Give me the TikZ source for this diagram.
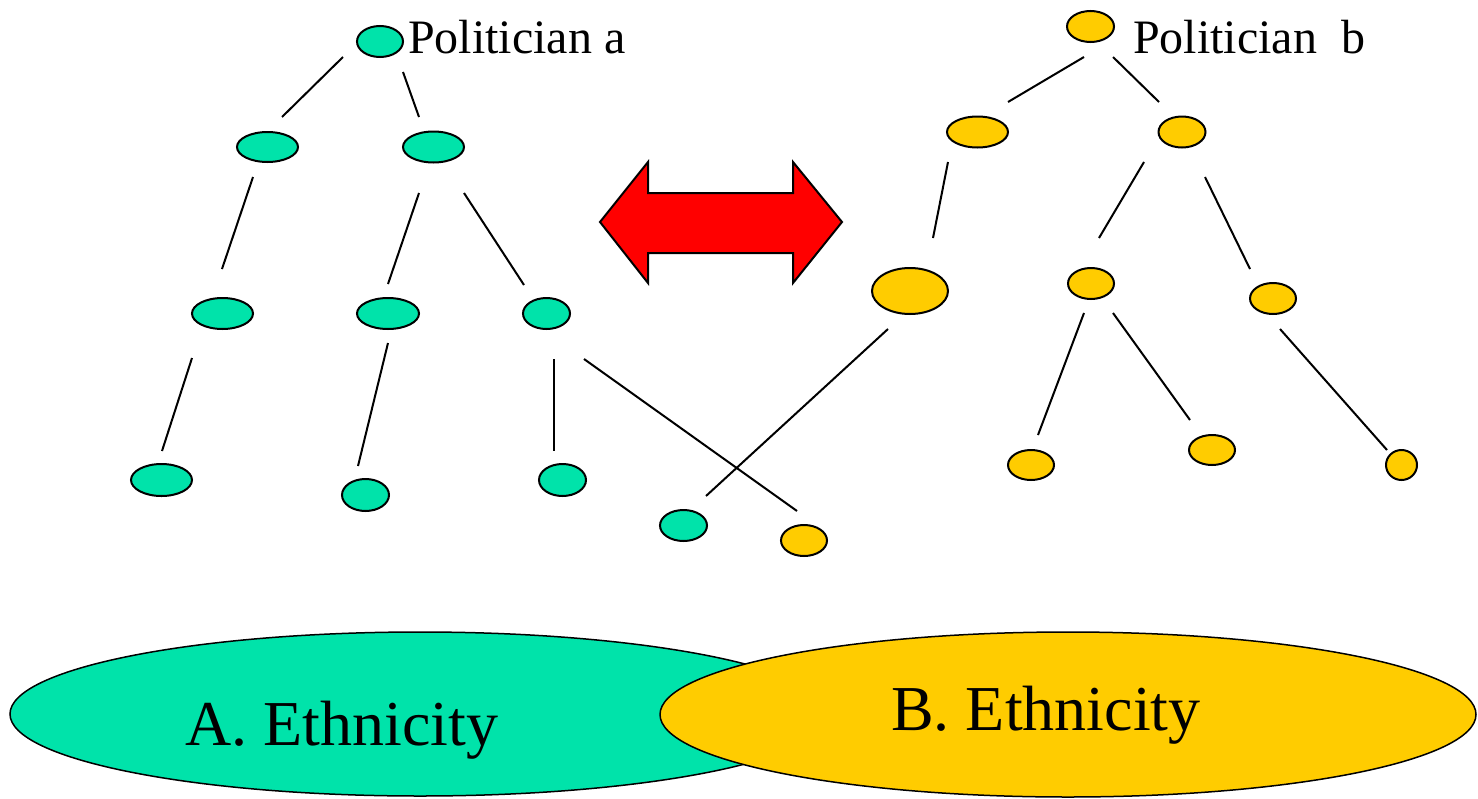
\documentclass[tikz,border=0pt]{standalone}
\usepackage{fontspec}
\setmainfont{Liberation Serif}
\usetikzlibrary{shapes.geometric}
\definecolor{tgreen}{RGB}{0,227,170}
\definecolor{tyellow}{RGB}{255,204,0}
\begin{document}
\begin{tikzpicture}[x=1pt,y=-1pt,
  gnode/.style={ellipse,draw=black,line width=2pt,fill=tgreen,inner sep=0pt},
  ynode/.style={ellipse,draw=black,line width=2pt,fill=tyellow,inner sep=0pt},
  sz/.style 2 args={minimum width=#1pt,minimum height=#2pt},
  link/.style={line width=2pt},
  bigell/.style={ellipse,draw=black,line width=1.5pt,inner sep=0pt},
  lbl/.style={anchor=base west,inner sep=0pt,font=\fontsize{48}{58}\selectfont},
  biglbl/.style={anchor=base west,inner sep=0pt,font=\fontsize{64}{76}\selectfont}]
\useasboundingbox (0,0) rectangle (1478,798);

% ---- Politician a tree (green)
\node[gnode,sz={46}{31}] (ga) at (380,41.5) {};
\node[gnode,sz={61}{30}] (g1l) at (267.5,147) {};
\node[gnode,sz={61}{31}] (g1r) at (433.5,147) {};
\node[gnode,sz={61}{31}] (g2l) at (222.5,313.5) {};
\node[gnode,sz={62}{31}] (g2m) at (388,313.5) {};
\node[gnode,sz={47}{31}] (g2r) at (546.5,313.5) {};
\node[gnode,sz={61}{32}] (g3a) at (161.5,480) {};
\node[gnode,sz={47}{32}] (g3b) at (365.5,495) {};
\node[gnode,sz={47}{32}] (g3c) at (562.5,480) {};
\node[gnode,sz={47}{31}] (g3d) at (683.5,525.5) {};
\node[ynode,sz={46}{31}] (y3x) at (804,540.5) {};

% ---- Politician b tree (yellow)
\node[ynode,sz={47}{31}] (ya) at (1090.5,26.5) {};
\node[ynode,sz={61}{31}] (y1l) at (977.5,132) {};
\node[ynode,sz={47}{31}] (y1r) at (1182,132) {};
\node[ynode,sz={76}{46}] (y2l) at (910,291) {};
\node[ynode,sz={46}{31}] (y2m) at (1091,283.5) {};
\node[ynode,sz={46}{31}] (y2r) at (1273,298.5) {};
\node[ynode,sz={46}{30}] (y3a) at (1031,465) {};
\node[ynode,sz={46}{30}] (y3b) at (1212,450) {};
\node[ynode,sz={31}{30}] (y3c) at (1401.5,465) {};

% ---- connector end points (lines stop short of the nodes)
\coordinate (c1a) at (343,57);   \coordinate (c1b) at (282,117);
\coordinate (c2a) at (403,72);   \coordinate (c2b) at (419,117);
\coordinate (c3a) at (253,177);  \coordinate (c3b) at (222,269);
\coordinate (c4a) at (419,193);  \coordinate (c4b) at (388,284);
\coordinate (c5a) at (464,193);  \coordinate (c5b) at (524,285);
\coordinate (c6a) at (192,358);  \coordinate (c6b) at (162,451);
\coordinate (c7a) at (388,343);  \coordinate (c7b) at (358,466);
\coordinate (c8a) at (554,359);  \coordinate (c8b) at (554,451);
\coordinate (c9a) at (584,359);  \coordinate (c9b) at (797,511);
\coordinate (c10a) at (888,329); \coordinate (c10b) at (706,496);
\coordinate (d1a) at (1084,57);  \coordinate (d1b) at (1008,102);
\coordinate (d2a) at (1113,57);  \coordinate (d2b) at (1159,102);
\coordinate (d3a) at (948,162);  \coordinate (d3b) at (933,238);
\coordinate (d4a) at (1144,162); \coordinate (d4b) at (1099,238);
\coordinate (d5a) at (1205,177); \coordinate (d5b) at (1250,269);
\coordinate (d6a) at (1084,313); \coordinate (d6b) at (1038,435);
\coordinate (d7a) at (1113,313); \coordinate (d7b) at (1190,420);
\coordinate (d8a) at (1280,329); \coordinate (d8b) at (1387,450);

\foreach \p in {c1,c2,c3,c4,c5,c6,c7,c8,c9,c10,d1,d2,d3,d4,d5,d6,d7,d8}
  \draw[link] (\p a) -- (\p b);

% ---- labels
\node[lbl] (pa) at (408,53) {Politician a};
\node[lbl] (pb) at (1133,53) {Politician\ \ b};

% ---- double arrow
\draw[fill=red,line width=2pt,line join=miter]
  (600,222) -- (648,162) -- (648,193) -- (793,193) -- (793,162) -- (842,222)
  -- (793,283) -- (793,253) -- (648,253) -- (648,283) -- cycle;

% ---- ethnicity ellipses
\node[bigell,fill=tgreen,minimum width=820pt,minimum height=164pt] (ea) at (420,714) {};
\node[bigell,fill=tyellow,minimum width=816pt,minimum height=165pt] (eb) at (1068,714.5) {};
\node[biglbl] (ta) at (185,745) {A. Ethnicity};
\node[biglbl] (tb) at (891,730) {B. Ethnicity};
\end{tikzpicture}
\end{document}
